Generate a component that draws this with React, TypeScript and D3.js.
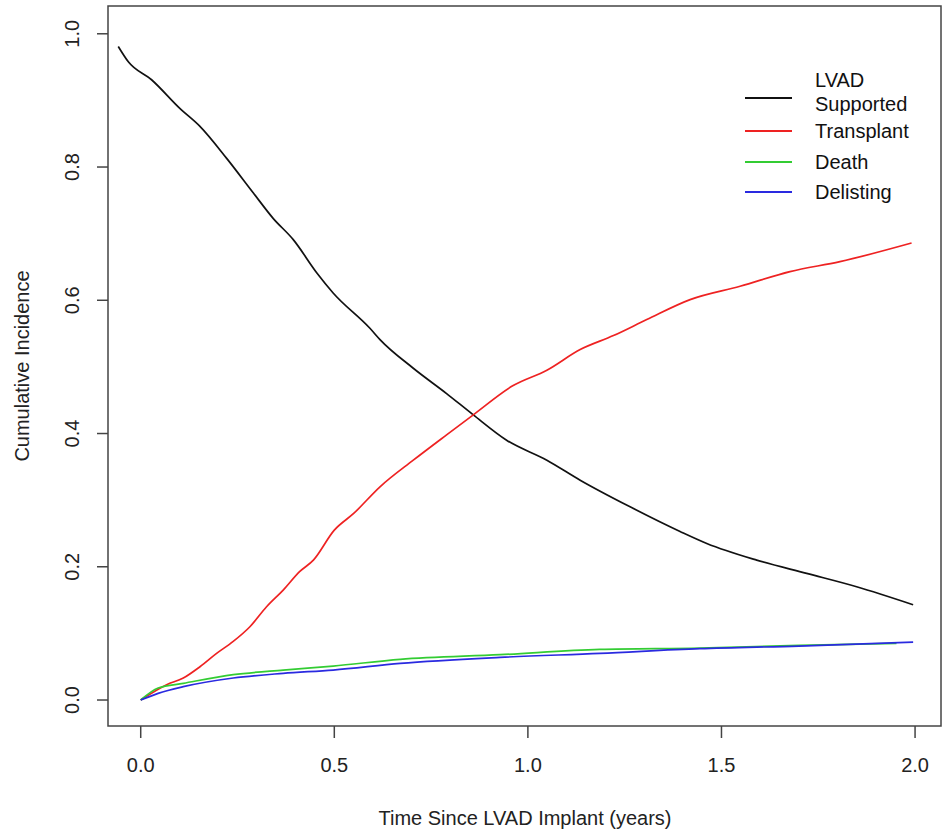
import React from "react";
import * as d3 from "d3";

// time (years) and cumulative incidence
const supportedTime = [-0.058, -0.032, 0.028, 0.101, 0.153, 0.222, 0.291, 0.342, 0.394, 0.455, 0.497, 0.592, 0.618, 0.704, 0.79, 0.859, 0.945, 1.049, 1.135, 1.264, 1.393, 1.462, 1.591, 1.72, 1.849, 1.995];
const supportedValue = [0.981, 0.958, 0.931, 0.888, 0.861, 0.813, 0.761, 0.723, 0.691, 0.641, 0.611, 0.558, 0.541, 0.498, 0.46, 0.428, 0.39, 0.36, 0.33, 0.29, 0.253, 0.235, 0.21, 0.19, 0.17, 0.143];

const transplantTime = [0, 0.067, 0.11, 0.153, 0.196, 0.239, 0.282, 0.325, 0.368, 0.411, 0.446, 0.5, 0.55, 0.618, 0.704, 0.79, 0.859, 0.962, 1.049, 1.135, 1.221, 1.307, 1.419, 1.548, 1.677, 1.806, 1.991];
const transplantValue = [0, 0.023, 0.033, 0.05, 0.07, 0.088, 0.11, 0.14, 0.165, 0.193, 0.21, 0.255, 0.28, 0.32, 0.36, 0.398, 0.428, 0.472, 0.495, 0.526, 0.547, 0.571, 0.601, 0.621, 0.643, 0.658, 0.686];

const deathTime = [0, 0.045, 0.11, 0.239, 0.368, 0.497, 0.67, 0.928, 1.186, 1.444, 1.7, 1.952];
const deathValue = [0, 0.018, 0.025, 0.038, 0.045, 0.051, 0.061, 0.068, 0.076, 0.078, 0.082, 0.085];

const delistTime = [0, 0.045, 0.11, 0.239, 0.368, 0.497, 0.67, 0.928, 1.186, 1.444, 1.7, 1.995];
const delistValue = [0, 0.01, 0.02, 0.033, 0.04, 0.045, 0.055, 0.064, 0.07, 0.077, 0.081, 0.087];

const xTicks = [0, 0.5, 1, 1.5, 2];
const yTicks = [0, 0.2, 0.4, 0.6, 0.8, 1.0];

const series = [
  { label: ["LVAD", "Supported"], color: "#111111", t: supportedTime, v: supportedValue },
  { label: ["Transplant"], color: "#ee2222", t: transplantTime, v: transplantValue },
  { label: ["Death"], color: "#33cc33", t: deathTime, v: deathValue },
  { label: ["Delisting"], color: "#2a2ae0", t: delistTime, v: delistValue },
];

const width = 942;
const height = 837;
const left = 108;
const right = 941;
const top = 6;
const bottom = 726;
const font = "Arial, 'Liberation Sans', sans-serif";

export default function App() {
  const x = d3.scaleLinear().domain([-0.0845, 2.067]).range([left, right]);
  const y = d3.scaleLinear().domain([-0.039, 1.0417]).range([bottom, top]);

  const line = d3
    .line<[number, number]>()
    .x((d) => x(d[0]))
    .y((d) => y(d[1]))
    .curve(d3.curveMonotoneX);

  // legend rows: line y positions, text below
  const legendRows = [98, 131, 162, 192];

  return (
    <svg
      width={width}
      height={height}
      style={{ position: "absolute", left: 0, top: 0, background: "#fff" }}
      fontFamily={font}
    >
      <rect x={0} y={0} width={width} height={height} fill="#fff" />

      {series.map((s, i) => (
        <path
          key={i}
          d={line(s.t.map((t, j) => [t, s.v[j]] as [number, number])) || ""}
          fill="none"
          stroke={s.color}
          strokeWidth={1.7}
        />
      ))}

      {/* frame */}
      <rect
        x={left}
        y={top}
        width={right - left}
        height={bottom - top}
        fill="none"
        stroke="#444"
        strokeWidth={1.5}
      />

      {/* x axis */}
      {xTicks.map((t) => (
        <g key={t}>
          <line x1={x(t)} x2={x(t)} y1={bottom} y2={bottom + 12} stroke="#444" strokeWidth={1.5} />
          <text x={x(t)} y={772} textAnchor="middle" fontSize={20} fill="#222">
            {t.toFixed(1)}
          </text>
        </g>
      ))}

      {/* y axis */}
      {yTicks.map((v) => (
        <g key={v}>
          <line x1={left - 11} x2={left} y1={y(v)} y2={y(v)} stroke="#444" strokeWidth={1.5} />
          <text
            transform={`translate(79, ${y(v)}) rotate(-90)`}
            textAnchor="middle"
            fontSize={20}
            fill="#222"
          >
            {v.toFixed(1)}
          </text>
        </g>
      ))}

      <text x={525} y={825} textAnchor="middle" fontSize={20} fill="#222">
        Time Since LVAD Implant (years)
      </text>
      <text
        transform={`translate(29, 366) rotate(-90)`}
        textAnchor="middle"
        fontSize={20}
        fill="#222"
      >
        Cumulative Incidence
      </text>

      {/* legend */}
      {series.map((s, i) => (
        <g key={i}>
          <line x1={745} x2={792} y1={legendRows[i]} y2={legendRows[i]} stroke={s.color} strokeWidth={1.8} />
          {s.label.length === 2 ? (
            <>
              <text x={815} y={87} fontSize={20} fill="#111">{s.label[0]}</text>
              <text x={815} y={111} fontSize={20} fill="#111">{s.label[1]}</text>
            </>
          ) : (
            <text x={815} y={legendRows[i] + 7} fontSize={20} fill="#111">
              {s.label[0]}
            </text>
          )}
        </g>
      ))}
    </svg>
  );
}
